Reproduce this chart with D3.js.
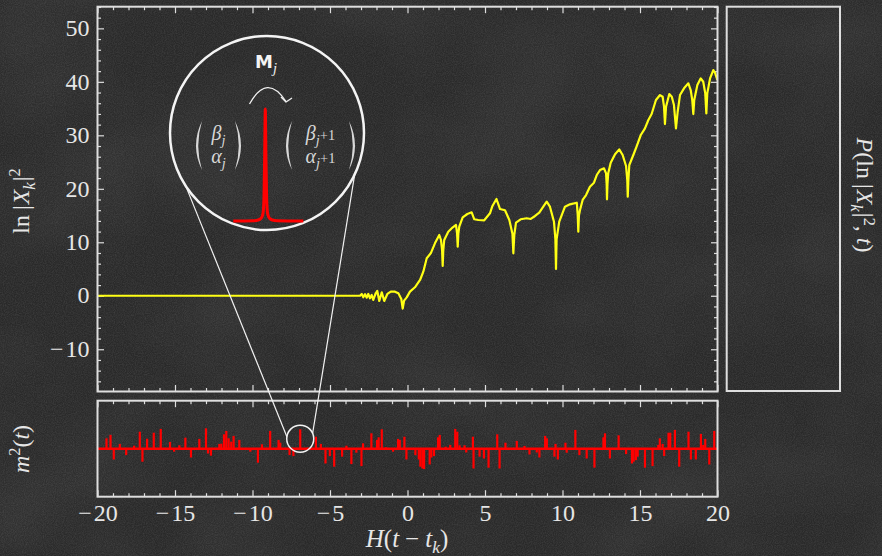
<!DOCTYPE html>
<html>
<head>
<meta charset="utf-8">
<script src="https://cdn.jsdelivr.net/npm/d3@7"></script>
<style>
  html, body { margin: 0; padding: 0; background: #282828; }
  svg { display: block; }
  .serif { font-family: "Liberation Serif", "DejaVu Serif", serif; }
  .sans { font-family: "DejaVu Sans", "Liberation Sans", sans-serif; }
</style>
</head>
<body>
<svg id="chart" width="882" height="556"></svg>
<script>
// ---------- data ----------
const xTicks = [-20, -15, -10, -5, 0, 5, 10, 15, 20];
const yTicks = [-10, 0, 10, 20, 30, 40, 50];

// ln|X_k|^2 against H(t - t_k)
const logTimes = [
  -20, -3.06, -2.95, -2.85, -2.74, -2.63, -2.53, -2.42, -2.31, -2.21,
  -2.05, -1.95, -1.82, -1.66, -1.50, -1.30, -1.08, -0.81, -0.59, -0.40,
  -0.31, -0.22, -0.05, 0.16, 0.48, 0.81, 1.02, 1.24, 1.50, 1.77,
  2.05, 2.16, 2.23, 2.27, 2.31, 2.37, 2.63, 2.92, 3.13, 3.20,
  3.24, 3.28, 3.34, 3.56, 3.86, 4.14, 4.31, 4.57, 4.95, 5.32,
  5.48, 5.74, 5.97, 6.29, 6.57, 6.77, 6.83, 6.89, 7.00, 7.30,
  7.69, 7.95, 8.23, 8.50, 8.76, 8.98, 9.19, 9.45, 9.54, 9.58,
  9.62, 9.79, 10.16, 10.48, 10.92, 10.98, 11.02, 11.06, 11.13, 11.30,
  11.52, 11.77, 12.03, 12.21, 12.42, 12.68, 12.81, 12.85, 12.87, 12.90,
  12.95, 13.11, 13.39, 13.66, 13.88, 14.10, 14.18, 14.21, 14.25, 14.31,
  14.57, 14.79, 15.05, 15.32, 15.54, 15.75, 16.03, 16.29, 16.46, 16.55,
  16.61, 16.68, 16.89, 17.05, 17.19, 17.32, 17.43, 17.58, 17.84, 18.12,
  18.27, 18.37, 18.44, 18.50, 18.70, 18.92, 19.08, 19.21, 19.28, 19.34,
  19.52, 19.73, 19.84, 19.99
];
const logValues = [
  0, 0, 0.34, -0.28, 0.28, -0.36, 0.34, -0.47, 0.15, -0.78,
  0.47, 0.90, -0.97, 0.65, -0.97, 0.34, 0.77, 0.77, 0.47, -0.6,
  -2.4, -0.9, -0.3, 0.77, 1.59, 2.95, 4.50, 7.01, 7.94, 9.81,
  11.36, 10.43, 8.6, 5.57, 8.6, 10.43, 11.98, 12.80, 13.23, 11.6,
  9.18, 11.6, 12.92, 14.67, 15.29, 15.61, 14.30, 14.17, 14.11, 15.42,
  16.79, 18.09, 16.22, 16.0, 14.17, 11.6, 7.94, 11.4, 13.66, 14.30,
  14.49, 14.36, 14.92, 15.53, 16.65, 17.59, 16.65, 13.85, 10.6, 5.01,
  10.6, 13.85, 16.65, 17.10, 17.40, 15.2, 11.98, 15.0, 16.04, 17.91,
  18.84, 20.39, 21.14, 22.58, 23.51, 23.83, 22.90, 20.8, 18.04, 20.8,
  22.90, 24.88, 26.45, 27.38, 26.32, 24.26, 21.6, 18.52, 21.6, 24.45,
  26.32, 28.0, 30.06, 31.31, 32.86, 33.98, 36.6, 37.53, 37.21, 35.35,
  32.11, 35.35, 37.72, 37.21, 35.66, 31.31, 34.41, 37.53, 38.79, 39.72,
  38.47, 36.6, 33.98, 36.6, 39.40, 40.65, 40.02, 37.85, 34.11, 37.85,
  40.65, 42.2, 41.7, 40.34
];

// m^2(t) impulses
const mTimes = [
  -19.42, -19.16, -18.95, -18.56, -18.15, -17.64, -17.27, -17.10, -16.80, -16.37,
  -15.92, -15.32, -15.06, -14.72, -14.33, -13.97, -13.43, -13.00, -12.87, -12.68,
  -12.14, -12.01, -11.84, -11.69, -11.54, -11.37, -11.22, -10.85, -10.14, -9.65,
  -9.39, -8.86, -8.32, -8.21, -7.61, -7.36, -6.92,
  -5.91, -5.59, -5.29, -5.01, -4.73, -4.22, -3.94, -3.62, -3.30, -2.97,
  -2.87, -2.33, -1.96, -1.86, -1.66, -1.40, -0.93, -0.61, -0.50, -0.20,
  -0.07, 0.51, 0.73, 0.83, 0.96, 1.07, 1.43, 1.54, 1.71, 1.97,
  2.08, 2.46, 2.76, 3.08, 3.21, 3.36, 3.68, 3.79, 4.22, 4.26,
  4.65, 4.93, 5.23, 5.79, 5.94, 6.32,
  7.05, 7.55, 7.87, 8.34, 8.51, 8.88, 8.99, 9.48, 9.55, 9.70,
  10.19, 10.27, 10.83, 11.09, 11.56, 12.06, 12.64, 12.74, 13.06, 13.62,
  14.10, 14.48, 14.59, 14.74, 14.85, 15.32, 15.81, 16.18, 16.28, 16.46,
  16.56, 16.84, 16.95, 17.25, 17.53, 18.13, 18.28, 18.60, 18.93, 19.08,
  19.21, 19.47, 19.79
];
const mValues = [
  0.52, 0.69, -0.54, 0.24, -0.32, 0.15, 0.85, -0.65, 0.50, 0.80,
  0.99, 0.34, -0.15, 0.17, 0.55, -0.44, 0.49, 1.02, -0.24, -0.35,
  0.24, 0.25, 0.72, 0.89, 0.52, 0.35, 0.64, 0.44, -0.15, -0.70,
  0.22, 0.89, 0.44, 0.30, -0.32, -0.37, 0.97,
  0.60, 0.24, -0.74, -0.37, -0.90, -0.40, 0.15, -0.77, -0.20, -0.87,
  0.27, 0.77, 0.44, 0.57, 0.97, 0.07, -0.15, 0.49, 0.44, 0.60,
  -0.54, -0.32, -0.54, -0.90, -0.99, -1.02, -0.79, -0.44, -0.37, 0.57,
  0.69, 0.10, 0.19, 0.99, 0.85, 0.17, 0.17, -0.19, 0.60, -0.99,
  -0.40, -0.49, -0.95, 0.72, -0.99, 0.30,
  0.39, 0.14, -0.29, -0.19, -0.44, 0.64, 0.52, -0.40, 0.24, -0.54,
  0.30, -0.20, 0.94, -0.32, -0.49, -0.95, 0.57, 0.77, -0.49, 0.67,
  -0.27, -0.74, -0.65, -0.57, -0.40, -0.95, -0.87, 0.19, 0.52, 0.24,
  -0.37, 0.80, 0.80, 0.94, -0.90, 0.85, -0.54, -0.54, 0.74, 0.19,
  0.49, -0.79, 0.89
];

// profile of the single impulse shown in the magnified view
const spikeOffsets = [-32, -12, -7, -4.5, -3, -2, -1.3, -0.7, 0, 0.7, 1.3, 2, 3, 4.5, 7, 12, 38];
const spikeHeights = [0, 0.3, 1, 2.5, 5, 10, 25, 60, 112, 60, 25, 10, 5, 2.5, 1, 0.3, 0];
const magnifiedTime = -6.92;

// ---------- style ----------
const INK = "#e6e6e6";
const FRAME = "#dedede";

const svg = d3.select("#chart");

// ---------- chalkboard background ----------
const defs = svg.append("defs");
const grain = defs.append("filter").attr("id", "grain")
  .attr("x", 0).attr("y", 0).attr("width", "100%").attr("height", "100%");
grain.append("feTurbulence").attr("type", "fractalNoise")
  .attr("baseFrequency", 0.9).attr("numOctaves", 2).attr("seed", 4);
grain.append("feColorMatrix").attr("type", "matrix")
  .attr("values", "0 0 0 0 1  0 0 0 0 1  0 0 0 0 1  0.16 0 0 0 -0.05");

const smudge = defs.append("filter").attr("id", "smudge")
  .attr("x", 0).attr("y", 0).attr("width", "100%").attr("height", "100%");
smudge.append("feTurbulence").attr("type", "fractalNoise")
  .attr("baseFrequency", "0.007 0.009").attr("numOctaves", 3).attr("seed", 11);
smudge.append("feColorMatrix").attr("type", "matrix")
  .attr("values", "0 0 0 0 1  0 0 0 0 1  0 0 0 0 1  0.09 0 0 0 -0.035");

svg.append("rect").attr("width", 882).attr("height", 556).attr("fill", "#292929");
svg.append("rect").attr("width", 882).attr("height", 556).attr("filter", "url(#smudge)");
svg.append("rect").attr("width", 882).attr("height", 556).attr("filter", "url(#grain)");

// ---------- layout & scales ----------
const main = { left: 97.5, right: 717.5, top: 6.7, bottom: 391.5 };
const lower = { top: 400.7, bottom: 496.7 };
const side = { left: 726.7, right: 840, top: 6.7, bottom: 391 };

const x = d3.scaleLinear().domain([-20, 20]).range([main.left, main.right]);
const y = d3.scaleLinear().domain([-17.9, 54.05]).range([main.bottom, main.top]);
const ym = d3.scaleLinear().domain([-2.4, 2.4]).range([lower.bottom, lower.top]);

const xMinor = d3.range(-20, 20.5, 1).filter(v => v % 5 !== 0);
const yMinor = d3.range(-16, 55, 2).filter(v => v % 10 !== 0);

// wide minus with a hair gap, as in typeset math
const tickLabel = d => (d < 0 ? "\u2212\u200A" + Math.abs(d) : String(d));

function styleAxis(g) {
  g.attr("font-family", null).attr("font-size", null);
  g.select(".domain").remove();
  g.selectAll(".tick line").attr("stroke", FRAME).attr("stroke-width", 1.2);
  g.selectAll(".tick text").attr("fill", INK)
    .attr("class", "serif").style("font-size", "24px");
}

function ticks(axisFn, scale, major, minor, tx, ty, labels) {
  const g = svg.append("g").attr("transform", `translate(${tx},${ty})`);
  g.call(axisFn(scale).tickValues(major).tickSize(-6.5).tickPadding(8)
    .tickFormat(labels ? tickLabel : ""));
  styleAxis(g);
  const gm = svg.append("g").attr("transform", `translate(${tx},${ty})`);
  gm.call(axisFn(scale).tickValues(minor).tickSize(-3.5).tickFormat(""));
  styleAxis(gm);
  return g;
}

// main panel ticks
const yLab = ticks(d3.axisLeft, y, yTicks, yMinor, main.left, 0, true);
yLab.selectAll(".tick text").attr("dy", "0.3em");
ticks(d3.axisRight, y, yTicks, yMinor, main.right, 0, false);
ticks(d3.axisTop, x, xTicks, xMinor, 0, main.top, false);
ticks(d3.axisBottom, x, xTicks, xMinor, 0, main.bottom, false);
// lower panel ticks
ticks(d3.axisTop, x, xTicks, xMinor, 0, lower.top, false);
const xLab = ticks(d3.axisBottom, x, xTicks, xMinor, 0, lower.bottom, true);
xLab.selectAll(".tick text").attr("y", 24).attr("dy", 0);

// ---------- ln|X_k|^2 trace ----------
defs.append("clipPath").attr("id", "mainClip").append("rect")
  .attr("x", main.left).attr("y", main.top)
  .attr("width", main.right - main.left).attr("height", main.bottom - main.top);

const logSeries = logTimes.map((t, i) => [t, logValues[i]]);
svg.append("path")
  .datum(logSeries)
  .attr("clip-path", "url(#mainClip)")
  .attr("fill", "none")
  .attr("stroke", "#ffff14")
  .attr("stroke-width", 2.2)
  .attr("stroke-linejoin", "round")
  .attr("d", d3.line().x(d => x(d[0])).y(d => y(d[1])));

// ---------- m^2(t) impulses ----------
svg.append("line")
  .attr("x1", x(-20)).attr("x2", x(20))
  .attr("y1", ym(0)).attr("y2", ym(0))
  .attr("stroke", "#ff0000").attr("stroke-width", 2.4);

svg.append("g").selectAll("line")
  .data(mTimes.map((t, i) => [t, mValues[i]]))
  .join("line")
  .attr("x1", d => x(d[0])).attr("x2", d => x(d[0]))
  .attr("y1", ym(0)).attr("y2", d => ym(d[1]))
  .attr("stroke", "#ff0000").attr("stroke-width", 2.2);

// ---------- panel frames ----------
[[main.top, main.bottom, main.left, main.right],
 [lower.top, lower.bottom, main.left, main.right],
 [side.top, side.bottom, side.left, side.right]].forEach(([t, b, l, r]) => {
  svg.append("rect")
    .attr("x", l).attr("y", t).attr("width", r - l).attr("height", b - t)
    .attr("fill", "none").attr("stroke", FRAME).attr("stroke-width", 2);
});

// ---------- math-style text helper ----------
function mathText(parent, parts, size, opts = {}) {
  const text = parent.append("text")
    .attr("class", "serif")
    .style("font-size", size + "px")
    .attr("fill", opts.fill || INK)
    .attr("text-anchor", opts.anchor || "middle");
  if (opts.transform) text.attr("transform", opts.transform);
  if (opts.x != null) text.attr("x", opts.x);
  if (opts.y != null) text.attr("y", opts.y);
  let cur = 0;
  parts.forEach(p => {
    const shift = p.shift || 0;
    const ts = text.append("tspan").text(p.t);
    if (p.i) ts.style("font-style", "italic");
    if (p.s) ts.style("font-size", (size * p.s) + "px");
    if (p.sans) ts.attr("class", "sans");
    if (p.w) ts.style("font-weight", p.w);
    const dy = -(shift - cur) * size;
    if (dy) ts.attr("dy", dy.toFixed(2));
    if (p.dx) ts.attr("dx", p.dx);
    cur = shift;
  });
  return text;
}

const SUB = -0.25, SUP = 0.38;

// axis titles
mathText(svg, [
  { t: "ln" }, { t: "|", dx: 5 }, { t: "X", i: 1, dx: 1 }, { t: "k", i: 1, s: 0.7, shift: SUB },
  { t: "|", shift: 0, dx: 1 }, { t: "2", s: 0.68, shift: SUP }
], 24, { transform: "translate(29,201) rotate(-90)" });

mathText(svg, [
  { t: "m", i: 1 }, { t: "2", s: 0.68, shift: SUP }, { t: "(", shift: 0 }, { t: "t", i: 1 }, { t: ")" }
], 24, { transform: "translate(29,449) rotate(-90)" });

mathText(svg, [
  { t: "P", i: 1 }, { t: "(ln" }, { t: "|", dx: 5 }, { t: "X", i: 1, dx: 1 },
  { t: "k", i: 1, s: 0.7, shift: SUB }, { t: "|", shift: 0, dx: 1 }, { t: "2", s: 0.68, shift: 0.3 },
  { t: ",", shift: 0 }, { t: "t", i: 1, dx: 6 }, { t: ")" }
], 24, { transform: "translate(857,195) rotate(90)" });

mathText(svg, [
  { t: "H", i: 1 }, { t: "(" }, { t: "t", i: 1 }, { t: "−", dx: 6 }, { t: "t", i: 1, dx: 6 },
  { t: "k", i: 1, s: 0.7, shift: SUB }, { t: ")", shift: 0 }
], 25, { x: 407, y: 547 });

// ---------- magnified view of one impulse ----------
const big = { cx: 267, cy: 133, r: 97 };
const small = { cx: x(magnifiedTime), cy: ym(0.5), r: 13.5 };

function onCircle(c, deg) {
  const a = deg * Math.PI / 180;
  return [c.cx + c.r * Math.cos(a), c.cy + c.r * Math.sin(a)];
}
const connectors = [[146.8, 188.6], [25.3, -23.5]];
connectors.forEach(([a1, a2]) => {
  const p1 = onCircle(big, a1), p2 = onCircle(small, a2);
  svg.append("line")
    .attr("x1", p1[0]).attr("y1", p1[1]).attr("x2", p2[0]).attr("y2", p2[1])
    .attr("stroke", "#f2f2f2").attr("stroke-width", 1.2);
});
svg.append("circle").attr("cx", small.cx).attr("cy", small.cy).attr("r", small.r)
  .attr("fill", "none").attr("stroke", "#f2f2f2").attr("stroke-width", 1.5);
svg.append("circle").attr("cx", big.cx).attr("cy", big.cy).attr("r", big.r)
  .attr("fill", "none").attr("stroke", "#f4f4f4").attr("stroke-width", 2.5);

// impulse profile
const xi = d3.scaleLinear().domain([-32, 38]).range([233.3, 303.3]);
const yi = d3.scaleLinear().domain([0, 112]).range([221, 109]);
svg.append("path")
  .datum(spikeOffsets.map((o, i) => [o, spikeHeights[i]]))
  .attr("fill", "none").attr("stroke", "#ff0000").attr("stroke-width", 3)
  .attr("stroke-linejoin", "round")
  .attr("d", d3.line().x(d => xi(d[0])).y(d => yi(d[1])).curve(d3.curveMonotoneX));

// operator label and arrow
mathText(svg, [
  { t: "M", sans: 1, w: "bold" }, { t: "j", i: 1, s: 0.8, shift: -0.25 }
], 18, { x: 266, y: 68, fill: "#f4f4f4" });
svg.append("path")
  .attr("d", "M249.5,104 Q267,72.5 286,101.5")
  .attr("fill", "none").attr("stroke", "#f0f0f0").attr("stroke-width", 1.3);
svg.append("path")
  .attr("d", "M281,97 L286,102 L292,98")
  .attr("fill", "none").attr("stroke", "#f0f0f0").attr("stroke-width", 1.3)
  .attr("stroke-linejoin", "round");

// state vectors
const VEC = "#d8d8d8";
function paren(x0, top, bottom, open) {
  const mid = (top + bottom) / 2;
  const s = open ? 1 : -1;
  const outer = x0 - s * 12, inner = x0 - s * 7.5;
  svg.append("path")
    .attr("d", `M${x0},${top} Q${outer},${mid} ${x0},${bottom} Q${inner},${mid} ${x0},${top} Z`)
    .attr("fill", VEC);
}
paren(202, 121, 170, true);
paren(235, 121, 170, false);
mathText(svg, [{ t: "β", i: 1 }, { t: "j", i: 1, s: 0.72, shift: SUB }], 20, { x: 218.5, y: 140, fill: VEC });
mathText(svg, [{ t: "α", i: 1 }, { t: "j", i: 1, s: 0.72, shift: SUB }], 20, { x: 218.5, y: 163, fill: VEC });
paren(292, 121, 170, true);
paren(349, 121, 170, false);
mathText(svg, [{ t: "β", i: 1 }, { t: "j", i: 1, s: 0.72, shift: SUB }, { t: "+1", s: 0.72 }], 20, { x: 320.5, y: 140, fill: VEC });
mathText(svg, [{ t: "α", i: 1 }, { t: "j", i: 1, s: 0.72, shift: SUB }, { t: "+1", s: 0.72 }], 20, { x: 320.5, y: 163, fill: VEC });
</script>
</body>
</html>
